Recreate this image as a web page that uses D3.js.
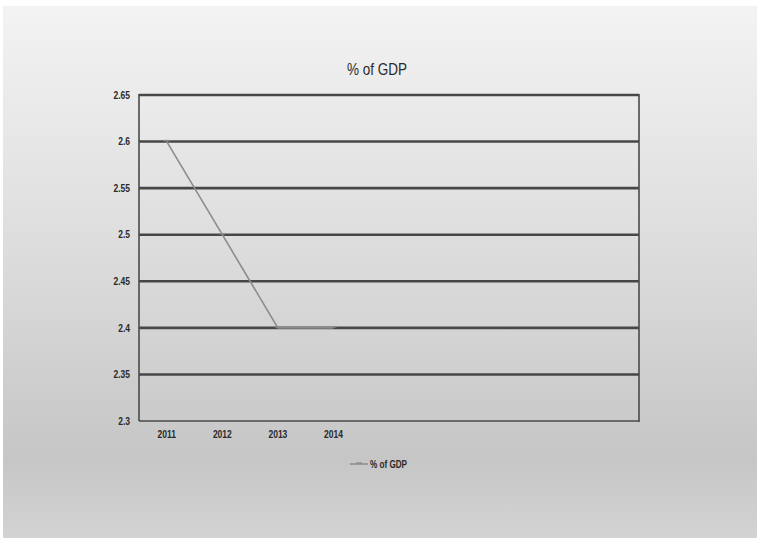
<!DOCTYPE html>
<html>
<head>
<meta charset="utf-8">
<script src="https://cdn.jsdelivr.net/npm/d3@7"></script>
<style>
  html, body { margin: 0; padding: 0; background: #fff; }
  svg { display: block; }
  text { font-family: "Liberation Sans Narrow", "Arial Narrow", "Liberation Sans", sans-serif; fill: #2a2a2a; }
</style>
</head>
<body>
<svg id="chart" width="757" height="538"></svg>
<script>
// Series data
const years = ["2011", "2012", "2013", "2014"];
const gdpShare = [2.6, 2.5, 2.4, 2.4];
const yTicks = [2.3, 2.35, 2.4, 2.45, 2.5, 2.55, 2.6, 2.65];
const seriesName = "% of GDP";
// Category slots on the axis; only the first four carry data
const slotCount = 9;

const W = 757, H = 538;
const m = { left: 139, right: 639, top: 95, bottom: 421 };

const svg = d3.select("#chart");

// Panel background gradient
const defs = svg.append("defs");
const grad = defs.append("linearGradient").attr("id", "bg").attr("x1", 0).attr("y1", 0).attr("x2", 0).attr("y2", 1);
grad.append("stop").attr("offset", "0%").attr("stop-color", "#f3f3f3");
grad.append("stop").attr("offset", "45%").attr("stop-color", "#dddddd");
grad.append("stop").attr("offset", "85%").attr("stop-color", "#c6c6c6");
grad.append("stop").attr("offset", "100%").attr("stop-color", "#d3d3d3");

svg.append("rect").attr("x", 3).attr("y", 6).attr("width", W - 3).attr("height", H - 6).attr("fill", "url(#bg)");

const slots = d3.range(slotCount).map(i => i < years.length ? years[i] : "slot" + i);
const x = d3.scaleBand().domain(slots).range([m.left, m.right]);
const cx = d => x(d) + x.bandwidth() / 2;
const y = d3.scaleLinear().domain([2.3, 2.65]).range([m.bottom, m.top]);

// Horizontal gridlines
svg.append("g").selectAll("line").data(yTicks.filter(t => t > 2.3)).join("line")
  .attr("x1", m.left).attr("x2", m.right)
  .attr("y1", d => y(d)).attr("y2", d => y(d))
  .attr("stroke", "#474747").attr("stroke-width", 2.6);

// Frame: left axis, right edge, bottom axis
const frame = svg.append("g").attr("stroke", "#4a4a4a").attr("stroke-width", 1.6);
frame.append("line").attr("x1", m.left).attr("x2", m.left).attr("y1", m.top - 1).attr("y2", m.bottom);
frame.append("line").attr("x1", m.right).attr("x2", m.right).attr("y1", m.top - 1).attr("y2", m.bottom + 1);
frame.append("line").attr("x1", m.left).attr("x2", m.right).attr("y1", m.bottom).attr("y2", m.bottom);

// Condense a text node horizontally to a given width
function squeeze(sel, ratio) {
  sel.each(function () {
    const w = this.getComputedTextLength();
    d3.select(this).attr("textLength", w * ratio).attr("lengthAdjust", "spacingAndGlyphs");
  });
}

// Y axis labels
const yAxis = d3.axisLeft(y).tickValues(yTicks).tickSize(0).tickPadding(9).tickFormat(d => String(+d.toFixed(2)));
svg.append("g").attr("transform", `translate(${m.left},0)`).call(yAxis)
  .call(g => g.select(".domain").remove())
  .selectAll("text").style("font-size", "10px").style("font-weight", "bold").attr("fill", "#333")
  .call(squeeze, 0.85);

// X axis labels (data categories only)
const xAxis = d3.axisBottom(x).tickValues(years).tickSize(0).tickPadding(10);
svg.append("g").attr("transform", `translate(0,${m.bottom})`).call(xAxis)
  .call(g => g.select(".domain").remove())
  .selectAll("text").style("font-size", "10px").style("font-weight", "bold").attr("fill", "#333")
  .call(squeeze, 0.85);

// Series line
const line = d3.line().x((d, i) => cx(years[i])).y(d => y(d));
svg.append("path").datum(gdpShare).attr("d", line)
  .attr("fill", "none").attr("stroke", "#8c8c8c").attr("stroke-width", 1.6);

// Dash markers at each point
svg.append("g").selectAll("line").data(gdpShare).join("line")
  .attr("x1", (d, i) => cx(years[i]) - 3).attr("x2", (d, i) => cx(years[i]) + 3)
  .attr("y1", d => y(d) - 1).attr("y2", d => y(d) - 1)
  .attr("stroke", "#8c8c8c").attr("stroke-width", 1.5);

// Title
svg.append("text").attr("x", 377).attr("y", 75).attr("text-anchor", "middle")
  .style("font-size", "17px").attr("fill", "#2b2b2b").text(seriesName)
  .attr("textLength", 60).attr("lengthAdjust", "spacingAndGlyphs");

// Legend
const lg = svg.append("g").attr("transform", "translate(350,464)");
lg.append("line").attr("x1", 0).attr("x2", 18).attr("y1", 0).attr("y2", 0).attr("stroke", "#8c8c8c").attr("stroke-width", 1.5);
lg.append("line").attr("x1", 6).attr("x2", 12).attr("y1", -1).attr("y2", -1).attr("stroke", "#8c8c8c").attr("stroke-width", 1.5);
lg.append("text").attr("x", 20).attr("y", 3.5).style("font-size", "10px").style("font-weight", "bold").attr("fill", "#333").text(seriesName)
  .attr("textLength", 37).attr("lengthAdjust", "spacingAndGlyphs");
</script>
</body>
</html>
